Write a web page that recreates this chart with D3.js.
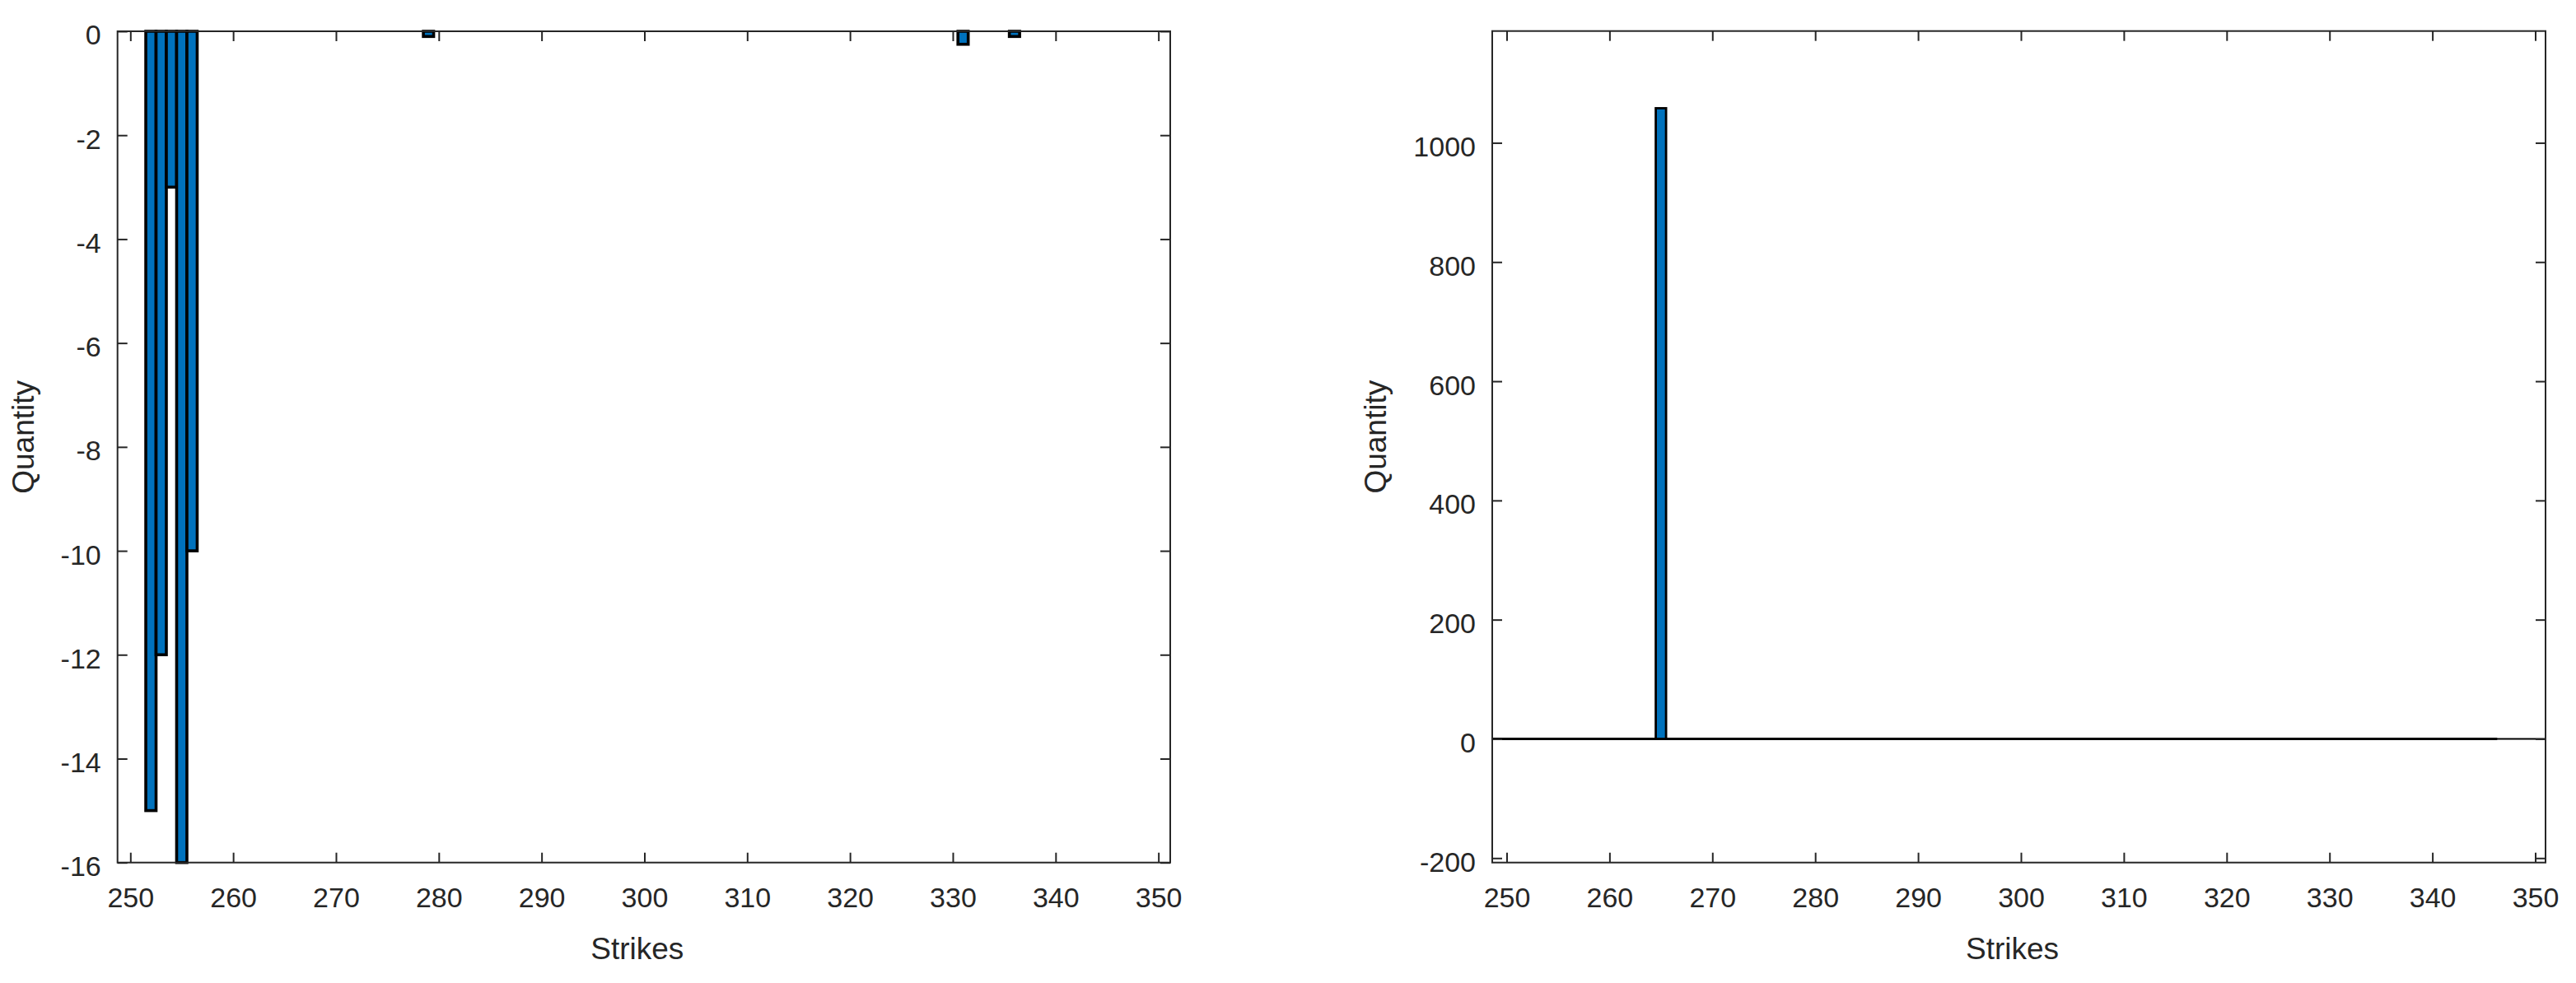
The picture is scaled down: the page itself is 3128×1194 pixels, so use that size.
<!DOCTYPE html>
<html>
<head>
<meta charset="utf-8">
<script src="https://cdn.jsdelivr.net/npm/d3@7"></script>
<style>
  html, body { margin: 0; padding: 0; background: #ffffff; }
  svg { display: block; }
</style>
</head>
<body>
<svg id="chart" width="3128" height="1194"></svg>
<script>
// ---------------- data ----------------
const leftStrikes = [252, 253, 254, 255, 256, 279, 331, 336];
const leftQty     = [-15, -12, -3, -16, -10, -0.1, -0.25, -0.1];
const leftYTicks  = [0, -2, -4, -6, -8, -10, -12, -14, -16];

const rightStrikes = [265];
const rightQty     = [1058];
const rightYTicks  = [-200, 0, 200, 400, 600, 800, 1000];

const xTicks = [250, 260, 270, 280, 290, 300, 310, 320, 330, 340, 350];
const xLabel = "Strikes";
const yLabel = "Quantity";

// ---------------- style ----------------
const axisColor = "#262626";
const barFill = "#0072BD";
const font = "'Liberation Sans', Arial, Helvetica, sans-serif";
const fmt = d => String(d);   // plain hyphen-minus like the reference

const svg = d3.select("#chart");

function drawPanel(cfg) {
  const g = svg.append("g");
  const x = d3.scaleLinear().domain(cfg.xDomain).range([cfg.x0, cfg.x1]);
  const y = d3.scaleLinear().domain(cfg.yDomain).range([cfg.y1, cfg.y0]);

  // baseline at zero
  if (cfg.baseline) {
    g.append("line")
      .attr("x1", cfg.x0).attr("x2", cfg.x1)
      .attr("y1", y(0)).attr("y2", y(0))
      .attr("stroke", "#000").attr("stroke-width", 2);
    g.append("line")
      .attr("x1", cfg.x0).attr("x2", x(cfg.baselineEnd))
      .attr("y1", y(0)).attr("y2", y(0))
      .attr("stroke", "#000").attr("stroke-width", 3);
  }

  const data = cfg.strikes.map((s, i) => ({ s, v: cfg.qty[i] }));
  const bw = x(1) - x(0);
  g.append("g").selectAll("rect").data(data).join("rect")
    .attr("x", d => x(d.s) - bw / 2)
    .attr("width", bw)
    .attr("y", d => Math.min(y(0), y(d.v)))
    .attr("height", d => Math.abs(y(d.v) - y(0)))
    .attr("fill", barFill)
    .attr("stroke", "#000")
    .attr("stroke-width", cfg.barStroke);

  // axes
  const tickLen = 12;
  const xb = g.append("g").attr("transform", `translate(0,${cfg.y1})`)
    .call(d3.axisBottom(x).tickValues(xTicks).tickSizeInner(-tickLen).tickSizeOuter(0).tickPadding(30).tickFormat(fmt));
  const xt = g.append("g").attr("transform", `translate(0,${cfg.y0})`)
    .call(d3.axisTop(x).tickValues(xTicks).tickSizeInner(-tickLen).tickSizeOuter(0).tickFormat(""));
  const yl = g.append("g").attr("transform", `translate(${cfg.x0},0)`)
    .call(d3.axisLeft(y).tickValues(cfg.yTicks).tickSizeInner(-tickLen).tickSizeOuter(0).tickPadding(20).tickFormat(fmt));
  const yr = g.append("g").attr("transform", `translate(${cfg.x1},0)`)
    .call(d3.axisRight(y).tickValues(cfg.yTicks).tickSizeInner(-tickLen).tickSizeOuter(0).tickFormat(""));

  [xb, xt, yl, yr].forEach(a => {
    a.select(".domain").remove();
    a.selectAll(".tick line").attr("stroke", axisColor).attr("stroke-width", 2);
    a.selectAll(".tick text")
      .attr("fill", axisColor)
      .style("font-family", font)
      .style("font-size", "34px");
  });
  yl.selectAll(".tick text").attr("dy", "0.47em");

  // box
  g.append("rect")
    .attr("x", cfg.x0).attr("y", cfg.y0)
    .attr("width", cfg.x1 - cfg.x0).attr("height", cfg.y1 - cfg.y0)
    .attr("fill", "none").attr("stroke", axisColor).attr("stroke-width", 2);

  // labels
  g.append("text")
    .attr("x", (cfg.x0 + cfg.x1) / 2 - 8)
    .attr("y", 1152)
    .attr("text-anchor", "middle")
    .attr("dominant-baseline", "central")
    .attr("fill", axisColor)
    .style("font-family", font)
    .style("font-size", "37px")
    .text(xLabel);

  g.append("text")
    .attr("transform", `translate(${cfg.yLabelX},${(cfg.y0 + cfg.y1) / 2 - 12}) rotate(-90)`)
    .attr("text-anchor", "middle")
    .attr("dominant-baseline", "central")
    .attr("fill", axisColor)
    .style("font-family", font)
    .style("font-size", "37px")
    .text(yLabel);
}

drawPanel({
  x0: 142.7, x1: 1421, y0: 38, y1: 1047.7,
  xDomain: [248.75, 351.15], yDomain: [-16, 0],
  strikes: leftStrikes, qty: leftQty, yTicks: leftYTicks,
  yLabelX: 28, baseline: false, barStroke: 3.6
});

drawPanel({
  x0: 1812, x1: 3091, y0: 37.7, y1: 1047.7,
  xDomain: [248.6, 351.0], yDomain: [-207.5, 1187.5],
  strikes: rightStrikes, qty: rightQty, yTicks: rightYTicks,
  yLabelX: 1670, baseline: true, baselineEnd: 346.3, barStroke: 2.8
});
</script>
</body>
</html>
